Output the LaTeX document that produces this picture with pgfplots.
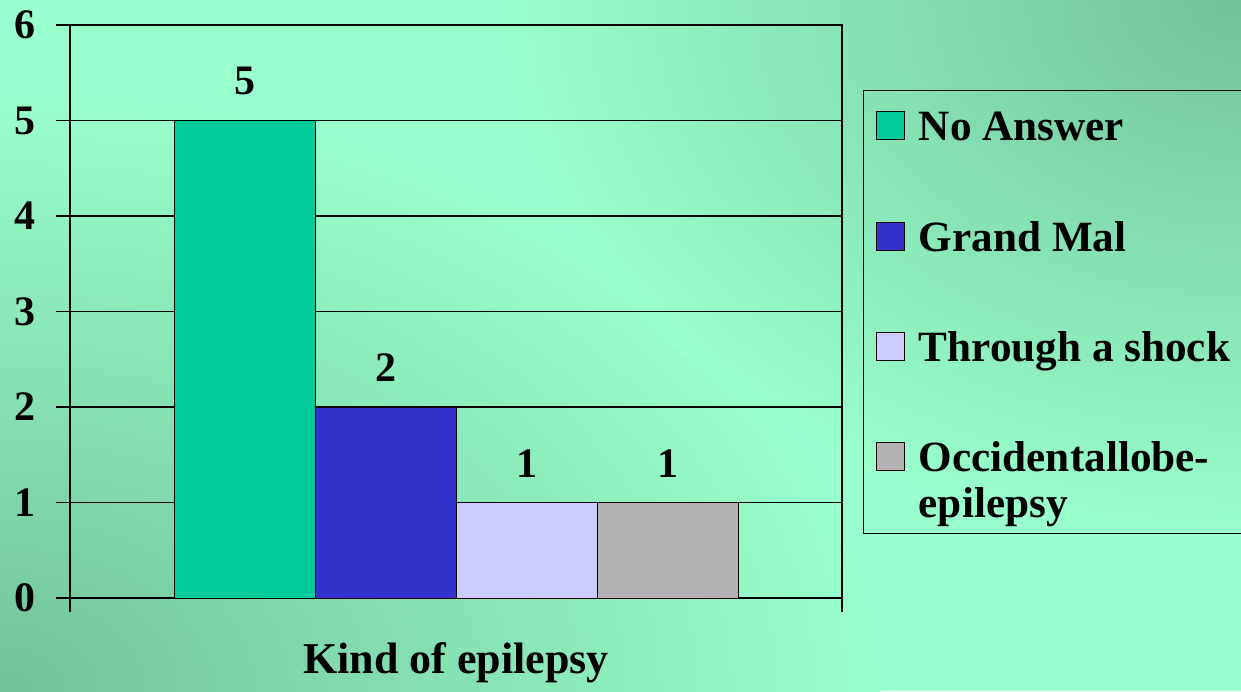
\documentclass[border=0pt]{standalone}
\usepackage{fontspec}
\setmainfont{Liberation Serif}
\usepackage{pgfplots}
\pgfplotsset{compat=1.18}
\definecolor{bglight}{HTML}{99FFCC}
\definecolor{bgdark}{HTML}{72C29A}
\definecolor{cNo}{HTML}{00CC99}
\definecolor{cGrand}{HTML}{3333CC}
\definecolor{cShock}{HTML}{CCCCFF}
\definecolor{cOcc}{HTML}{B2B2B2}
\newcommand{\lstrut}{\rule{0pt}{18.5pt}}
\begin{document}
\begin{tikzpicture}
\useasboundingbox (0,0) rectangle (620.5pt,345.5pt);
\fill[bglight] (0,0) rectangle (620.5pt,345.5pt);
\begin{scope}
\clip (0,0) rectangle (620.5pt,345.5pt);
\shade[inner color=bgdark, outer color=bglight] (0,0) ellipse (440pt and 300pt);
\shade[inner color=bgdark, outer color=bglight] (620.5pt,345.5pt) ellipse (370pt and 270pt);
\end{scope}
\begin{axis}[
  at={(35pt,46.5pt)}, anchor=south west,
  scale only axis,
  width=386pt, height=286.5pt,
  ybar=0pt, bar width=70.5pt,
  xmin=-0.5, xmax=0.5,
  ymin=0, ymax=6,
  xtick={-0.5,0.5}, xticklabels={},
  ytick={0,1,2,3,4,5,6},
  tick align=outside,
  major tick length=7pt,
  xtick pos=bottom, ytick pos=left,
  ymajorgrids,
  major grid style={black, line width=0.7pt},
  axis line style={black, line width=0.8pt},
  every tick/.style={black, line width=0.7pt},
  /pgf/number format/assume math mode=true,
  yticklabel style={font=\fontsize{21}{25}\selectfont\bfseries, inner xsep=0pt, xshift=-10pt},
  xlabel={Kind of epilepsy},
  xlabel style={at={(axis description cs:0.5,0)}, anchor=base, yshift=-37.5pt, font=\fontsize{22}{26}\selectfont\bfseries},
  nodes near coords,
  nodes near coords style={font=\fontsize{21}{25}\selectfont\bfseries, black, yshift=9pt},
  legend cell align=left,
  legend style={at={(rel axis cs:1,1)}, anchor=north west, xshift=10.5pt, yshift=-32.5pt,
    draw=black, line width=0.6pt, fill=none,
    inner xsep=6pt, inner ysep=3.2pt,
    row sep=28.6pt, column sep=7pt,
    font=\fontsize{21.6}{23}\selectfont\bfseries,
    cells={anchor=base west},
    nodes={inner xsep=0pt, inner ysep=3.33pt}},
  legend image code/.code={\draw[#1, draw=black, line width=0.6pt] (0pt,0.5pt) rectangle (14pt,14.5pt);},
]
\addplot[fill=cNo, draw=black, line width=0.5pt] coordinates {(0,5)};
\addplot[fill=cGrand, draw=black, line width=0.5pt] coordinates {(0,2)};
\addplot[fill=cShock, draw=black, line width=0.5pt] coordinates {(0,1)};
\addplot[fill=cOcc, draw=black, line width=0.5pt,
  legend image code/.code={\draw[fill=cOcc, draw=black, line width=0.6pt] (0pt,23.5pt) rectangle (14pt,37.5pt);}] coordinates {(0,1)};
\addlegendentry{\lstrut No Answer}
\addlegendentry{\lstrut Grand Mal}
\addlegendentry{\lstrut Through a shock}
\addlegendentry{\raisebox{0pt}[41pt][0pt]{\vbox{\baselineskip=23pt\lineskiplimit=-100pt\lineskip=0pt\hbox{Occidentallobe-}\hbox{epilepsy}}}}
\end{axis}
\end{tikzpicture}
\end{document}
